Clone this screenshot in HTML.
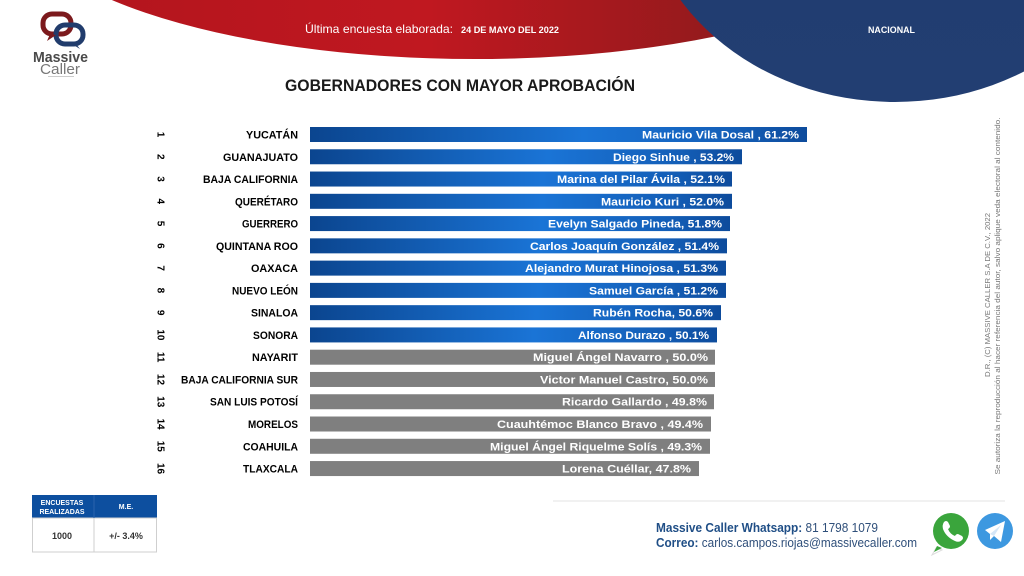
<!DOCTYPE html>
<html><head><meta charset="utf-8"><style>
html,body{margin:0;padding:0;background:#fff;width:1024px;height:576px;overflow:hidden}
svg{display:block}
text{font-family:"Liberation Sans",sans-serif}
</style></head><body>
<svg width="1024" height="576" viewBox="0 0 1024 576" xmlns="http://www.w3.org/2000/svg">
<defs>
<linearGradient id="red" x1="0" y1="0" x2="1" y2="0">
<stop offset="0" stop-color="#b0141d"/><stop offset="0.45" stop-color="#c01820"/><stop offset="0.8" stop-color="#8e1a1c"/><stop offset="1" stop-color="#5e1818"/>
</linearGradient>
<linearGradient id="blue" x1="0" y1="0" x2="0" y2="1">
<stop offset="0" stop-color="#1e3a6d"/><stop offset="1" stop-color="#223e72"/>
</linearGradient>
<linearGradient id="bar" x1="0" y1="0" x2="1" y2="0">
<stop offset="0" stop-color="#0b458f"/><stop offset="0.55" stop-color="#1a74d6"/><stop offset="0.85" stop-color="#145fb8"/><stop offset="1" stop-color="#0d4b9c"/>
</linearGradient>
</defs>

<!-- header shapes -->
<ellipse cx="475" cy="-99" rx="466" ry="158" fill="url(#red)"/>
<ellipse cx="895" cy="-120" rx="255" ry="222" fill="url(#blue)"/>
<text x="305" y="33" fill="#fff" font-size="12" textLength="148" lengthAdjust="spacingAndGlyphs">Última encuesta elaborada:</text>
<text x="461" y="33" fill="#fff" font-size="9" font-weight="bold" textLength="98" lengthAdjust="spacingAndGlyphs">24 DE MAYO DEL 2022</text>
<text x="868" y="33" fill="#fff" font-size="9" font-weight="bold" textLength="47" lengthAdjust="spacingAndGlyphs">NACIONAL</text>

<!-- logo -->
<rect x="43" y="14" width="28" height="20" rx="9" fill="none" stroke="#7c1a1d" stroke-width="5"/>
<rect x="56" y="25" width="27" height="19" rx="9" fill="none" stroke="#213c6c" stroke-width="5"/>
<path d="M50 34 L47 41 L56 35 Z" fill="#7c1a1d"/>
<path d="M76 44 L80 49 L72 44 Z" fill="#213c6c"/>
<text x="33" y="62" fill="#4a4a4a" font-size="15" font-weight="bold" textLength="55" lengthAdjust="spacingAndGlyphs">Massive</text>
<text x="40" y="74" fill="#777" font-size="15" textLength="40" lengthAdjust="spacingAndGlyphs">Caller</text>
<rect x="48" y="76" width="26" height="1" fill="#ccc"/>

<!-- title -->
<text x="285" y="91" fill="#1a1a1a" font-size="17" font-weight="bold" textLength="350" lengthAdjust="spacingAndGlyphs">GOBERNADORES CON MAYOR APROBACIÓN</text>

<!-- bars -->
<g font-weight="bold">
<g transform="translate(0,127)">
<text transform="translate(161,7.5) rotate(90)" text-anchor="middle" font-size="10" fill="#000" dy="3.5">1</text>
<text x="298" y="11.5" text-anchor="end" font-size="11" fill="#000" textLength="52" lengthAdjust="spacingAndGlyphs">YUCATÁN</text>
<rect x="310" y="0" width="497" height="15" fill="url(#bar)"/>
<text x="799" y="11.5" text-anchor="end" font-size="11" fill="#fff" textLength="157" lengthAdjust="spacingAndGlyphs">Mauricio Vila Dosal , 61.2%</text>
</g>
<g transform="translate(0,149.27)">
<text transform="translate(161,7.5) rotate(90)" text-anchor="middle" font-size="10" fill="#000" dy="3.5">2</text>
<text x="298" y="11.5" text-anchor="end" font-size="11" fill="#000" textLength="75" lengthAdjust="spacingAndGlyphs">GUANAJUATO</text>
<rect x="310" y="0" width="432" height="15" fill="url(#bar)"/>
<text x="734" y="11.5" text-anchor="end" font-size="11" fill="#fff" textLength="121" lengthAdjust="spacingAndGlyphs">Diego Sinhue , 53.2%</text>
</g>
<g transform="translate(0,171.54)">
<text transform="translate(161,7.5) rotate(90)" text-anchor="middle" font-size="10" fill="#000" dy="3.5">3</text>
<text x="298" y="11.5" text-anchor="end" font-size="11" fill="#000" textLength="95" lengthAdjust="spacingAndGlyphs">BAJA CALIFORNIA</text>
<rect x="310" y="0" width="422" height="15" fill="url(#bar)"/>
<text x="725" y="11.5" text-anchor="end" font-size="11" fill="#fff" textLength="168" lengthAdjust="spacingAndGlyphs">Marina del Pilar Ávila , 52.1%</text>
</g>
<g transform="translate(0,193.81)">
<text transform="translate(161,7.5) rotate(90)" text-anchor="middle" font-size="10" fill="#000" dy="3.5">4</text>
<text x="298" y="11.5" text-anchor="end" font-size="11" fill="#000" textLength="63" lengthAdjust="spacingAndGlyphs">QUERÉTARO</text>
<rect x="310" y="0" width="422" height="15" fill="url(#bar)"/>
<text x="724" y="11.5" text-anchor="end" font-size="11" fill="#fff" textLength="123" lengthAdjust="spacingAndGlyphs">Mauricio Kuri , 52.0%</text>
</g>
<g transform="translate(0,216.08)">
<text transform="translate(161,7.5) rotate(90)" text-anchor="middle" font-size="10" fill="#000" dy="3.5">5</text>
<text x="298" y="11.5" text-anchor="end" font-size="11" fill="#000" textLength="56" lengthAdjust="spacingAndGlyphs">GUERRERO</text>
<rect x="310" y="0" width="420" height="15" fill="url(#bar)"/>
<text x="722" y="11.5" text-anchor="end" font-size="11" fill="#fff" textLength="174" lengthAdjust="spacingAndGlyphs">Evelyn Salgado Pineda, 51.8%</text>
</g>
<g transform="translate(0,238.35)">
<text transform="translate(161,7.5) rotate(90)" text-anchor="middle" font-size="10" fill="#000" dy="3.5">6</text>
<text x="298" y="11.5" text-anchor="end" font-size="11" fill="#000" textLength="82" lengthAdjust="spacingAndGlyphs">QUINTANA ROO</text>
<rect x="310" y="0" width="417" height="15" fill="url(#bar)"/>
<text x="719" y="11.5" text-anchor="end" font-size="11" fill="#fff" textLength="189" lengthAdjust="spacingAndGlyphs">Carlos Joaquín González , 51.4%</text>
</g>
<g transform="translate(0,260.62)">
<text transform="translate(161,7.5) rotate(90)" text-anchor="middle" font-size="10" fill="#000" dy="3.5">7</text>
<text x="298" y="11.5" text-anchor="end" font-size="11" fill="#000" textLength="47" lengthAdjust="spacingAndGlyphs">OAXACA</text>
<rect x="310" y="0" width="416" height="15" fill="url(#bar)"/>
<text x="718" y="11.5" text-anchor="end" font-size="11" fill="#fff" textLength="193" lengthAdjust="spacingAndGlyphs">Alejandro Murat Hinojosa , 51.3%</text>
</g>
<g transform="translate(0,282.89)">
<text transform="translate(161,7.5) rotate(90)" text-anchor="middle" font-size="10" fill="#000" dy="3.5">8</text>
<text x="298" y="11.5" text-anchor="end" font-size="11" fill="#000" textLength="66" lengthAdjust="spacingAndGlyphs">NUEVO LEÓN</text>
<rect x="310" y="0" width="416" height="15" fill="url(#bar)"/>
<text x="718" y="11.5" text-anchor="end" font-size="11" fill="#fff" textLength="129" lengthAdjust="spacingAndGlyphs">Samuel García , 51.2%</text>
</g>
<g transform="translate(0,305.16)">
<text transform="translate(161,7.5) rotate(90)" text-anchor="middle" font-size="10" fill="#000" dy="3.5">9</text>
<text x="298" y="11.5" text-anchor="end" font-size="11" fill="#000" textLength="47" lengthAdjust="spacingAndGlyphs">SINALOA</text>
<rect x="310" y="0" width="411" height="15" fill="url(#bar)"/>
<text x="713" y="11.5" text-anchor="end" font-size="11" fill="#fff" textLength="120" lengthAdjust="spacingAndGlyphs">Rubén Rocha, 50.6%</text>
</g>
<g transform="translate(0,327.43)">
<text transform="translate(161,7.5) rotate(90)" text-anchor="middle" font-size="10" fill="#000" dy="3.5">10</text>
<text x="298" y="11.5" text-anchor="end" font-size="11" fill="#000" textLength="45" lengthAdjust="spacingAndGlyphs">SONORA</text>
<rect x="310" y="0" width="407" height="15" fill="url(#bar)"/>
<text x="709" y="11.5" text-anchor="end" font-size="11" fill="#fff" textLength="131" lengthAdjust="spacingAndGlyphs">Alfonso Durazo , 50.1%</text>
</g>
<g transform="translate(0,349.7)">
<text transform="translate(161,7.5) rotate(90)" text-anchor="middle" font-size="10" fill="#000" dy="3.5">11</text>
<text x="298" y="11.5" text-anchor="end" font-size="11" fill="#000" textLength="46" lengthAdjust="spacingAndGlyphs">NAYARIT</text>
<rect x="310" y="0" width="405" height="15" fill="#7f7f7f"/>
<text x="708" y="11.5" text-anchor="end" font-size="11" fill="#fff" textLength="175" lengthAdjust="spacingAndGlyphs">Miguel Ángel Navarro , 50.0%</text>
</g>
<g transform="translate(0,371.97)">
<text transform="translate(161,7.5) rotate(90)" text-anchor="middle" font-size="10" fill="#000" dy="3.5">12</text>
<text x="298" y="11.5" text-anchor="end" font-size="11" fill="#000" textLength="117" lengthAdjust="spacingAndGlyphs">BAJA CALIFORNIA SUR</text>
<rect x="310" y="0" width="405" height="15" fill="#7f7f7f"/>
<text x="708" y="11.5" text-anchor="end" font-size="11" fill="#fff" textLength="168" lengthAdjust="spacingAndGlyphs">Victor Manuel Castro, 50.0%</text>
</g>
<g transform="translate(0,394.24)">
<text transform="translate(161,7.5) rotate(90)" text-anchor="middle" font-size="10" fill="#000" dy="3.5">13</text>
<text x="298" y="11.5" text-anchor="end" font-size="11" fill="#000" textLength="88" lengthAdjust="spacingAndGlyphs">SAN LUIS POTOSÍ</text>
<rect x="310" y="0" width="404" height="15" fill="#7f7f7f"/>
<text x="707" y="11.5" text-anchor="end" font-size="11" fill="#fff" textLength="145" lengthAdjust="spacingAndGlyphs">Ricardo Gallardo , 49.8%</text>
</g>
<g transform="translate(0,416.51)">
<text transform="translate(161,7.5) rotate(90)" text-anchor="middle" font-size="10" fill="#000" dy="3.5">14</text>
<text x="298" y="11.5" text-anchor="end" font-size="11" fill="#000" textLength="50" lengthAdjust="spacingAndGlyphs">MORELOS</text>
<rect x="310" y="0" width="401" height="15" fill="#7f7f7f"/>
<text x="703" y="11.5" text-anchor="end" font-size="11" fill="#fff" textLength="206" lengthAdjust="spacingAndGlyphs">Cuauhtémoc Blanco Bravo , 49.4%</text>
</g>
<g transform="translate(0,438.78)">
<text transform="translate(161,7.5) rotate(90)" text-anchor="middle" font-size="10" fill="#000" dy="3.5">15</text>
<text x="298" y="11.5" text-anchor="end" font-size="11" fill="#000" textLength="55" lengthAdjust="spacingAndGlyphs">COAHUILA</text>
<rect x="310" y="0" width="400" height="15" fill="#7f7f7f"/>
<text x="702" y="11.5" text-anchor="end" font-size="11" fill="#fff" textLength="212" lengthAdjust="spacingAndGlyphs">Miguel Ángel Riquelme Solís , 49.3%</text>
</g>
<g transform="translate(0,461.05)">
<text transform="translate(161,7.5) rotate(90)" text-anchor="middle" font-size="10" fill="#000" dy="3.5">16</text>
<text x="298" y="11.5" text-anchor="end" font-size="11" fill="#000" textLength="55" lengthAdjust="spacingAndGlyphs">TLAXCALA</text>
<rect x="310" y="0" width="389" height="15" fill="#7f7f7f"/>
<text x="691" y="11.5" text-anchor="end" font-size="11" fill="#fff" textLength="129" lengthAdjust="spacingAndGlyphs">Lorena Cuéllar, 47.8%</text>
</g>
</g>

<!-- right vertical text -->
<text transform="translate(990,295) rotate(-90)" text-anchor="middle" font-size="7.5" fill="#777" textLength="164" lengthAdjust="spacingAndGlyphs">D.R., (C) MASSIVE CALLER S.A DE C.V., 2022</text>
<text transform="translate(1000,296) rotate(-90)" text-anchor="middle" font-size="7.5" fill="#777" textLength="357" lengthAdjust="spacingAndGlyphs">Se autoriza la reproducción al hacer referencia del autor, salvo aplique veda electoral al contenido.</text>

<!-- table -->
<rect x="32" y="495" width="125" height="23" fill="#0d4f9f"/>
<rect x="32.5" y="518" width="124" height="34" fill="#fff" stroke="#cfcfcf" stroke-width="1"/>
<line x1="94" y1="518" x2="94" y2="552" stroke="#cfcfcf" stroke-width="1"/>
<line x1="94" y1="495" x2="94" y2="518" stroke="#2a63ad" stroke-width="1"/>
<text x="62" y="505" text-anchor="middle" font-size="7" font-weight="bold" fill="#fff">ENCUESTAS</text>
<text x="62" y="514" text-anchor="middle" font-size="7" font-weight="bold" fill="#fff">REALIZADAS</text>
<text x="126" y="509" text-anchor="middle" font-size="7" font-weight="bold" fill="#fff">M.E.</text>
<text x="62" y="539" text-anchor="middle" font-size="9" font-weight="bold" fill="#333">1000</text>
<text x="126" y="539" text-anchor="middle" font-size="9" font-weight="bold" fill="#333">+/- 3.4%</text>

<!-- footer -->
<line x1="553" y1="501" x2="1005" y2="501" stroke="#e3e3e3" stroke-width="1"/>
<text x="656" y="532" font-size="12.5" fill="#1f4e86" textLength="222" lengthAdjust="spacingAndGlyphs"><tspan font-weight="bold">Massive Caller Whatsapp:</tspan> <tspan fill="#2f4f7a">81 1798 1079</tspan></text>
<text x="656" y="547" font-size="12.5" fill="#1f4e86" textLength="261" lengthAdjust="spacingAndGlyphs"><tspan font-weight="bold">Correo:</tspan> <tspan fill="#2f4f7a">carlos.campos.riojas@massivecaller.com</tspan></text>

<!-- whatsapp -->
<path d="M936 548 L932 555 L942 550 Z" fill="#fff" stroke="#ddd" stroke-width="1"/>
<circle cx="951" cy="531" r="20" fill="#fff"/>
<circle cx="951" cy="531" r="18" fill="#3aa53c"/>
<path d="M937 546 L934 552 L942 548 Z" fill="#3aa53c"/>
<path d="M944 522 q2 -2 4 0 l2 4 q0 2 -2 3 q2 5 7 7 q1 -2 3 -2 l4 2 q2 2 0 4 q-3 3 -7 1 q-9 -4 -12 -12 q-1 -4 1 -7 Z" fill="#fff"/>
<!-- telegram -->
<circle cx="995" cy="531" r="18" fill="#3d98e0"/>
<path d="M985 530 L1005 521 L1001 542 L994 536 L990 540 L990 534 Z" fill="#fff"/>
<path d="M990 534 L1001 525 L994 536 Z" fill="#d4e6f7"/>
</svg>
</body></html>
